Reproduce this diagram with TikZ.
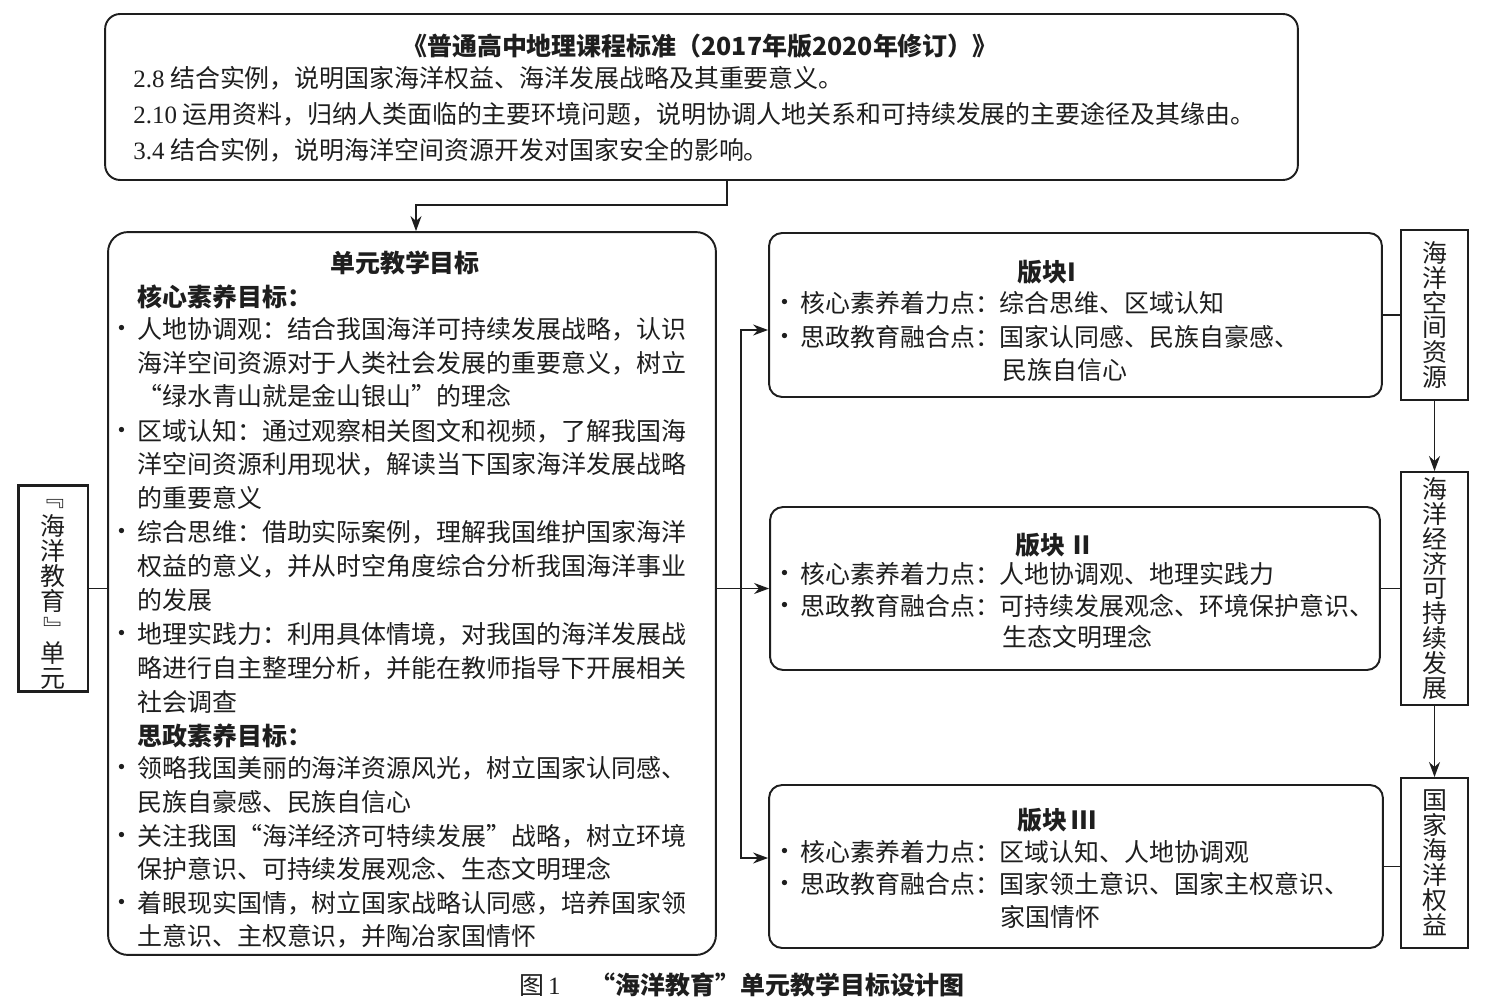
\documentclass[tikz,border=0pt]{standalone}
\usepackage{fontspec}
\setmainfont{Noto Sans CJK SC}
\newfontfamily\serif{Liberation Serif}
\usetikzlibrary{arrows.meta}
\definecolor{ink}{HTML}{1E1E1E}
\newcommand\vbrk[1]{\raisebox{0pt}[0.8em][0.2em]{\rotatebox[origin=c]{-90}{#1}}}
\tikzset{
  frame/.style={draw=ink, line width=1.1pt, inner sep=0pt},
  roundbox/.style={frame, rounded corners=0.26cm},
  sqbox/.style={frame, align=center, font=\fontsize{14.2pt}{14.2pt}\selectfont, text=ink},
  ln/.style={anchor=west, inner sep=0pt, text=ink},
  ttl/.style={inner sep=0pt, text=ink, font=\fontsize{14.2pt}{17pt}\selectfont\bfseries},
  dot/.style={inner sep=0pt, text=ink, yshift=-0.05cm},
  conn/.style={draw=ink, line width=0.85pt},
  arr/.style={conn, -{Stealth[length=0.3cm, width=0.22cm]}}
}
\begin{document}
\begin{tikzpicture}[x=0.02cm, y=-0.02cm, font=\fontsize{14.2pt}{17pt}\selectfont]
\useasboundingbox (0,0) rectangle (1500,1003);

% ---------- boxes ----------
\node[roundbox, rounded corners=0.3cm, minimum width=23.86cm, minimum height=3.32cm] (top) at (701.5,97) {};
\node[roundbox, rounded corners=0.4cm, minimum width=12.16cm, minimum height=14.46cm] (mid) at (412,593.5) {};
\node[sqbox, line width=1.7pt, minimum width=1.4cm, minimum height=4.14cm] (left) at (53,588.5)
  {\vbrk{『}\\海\\洋\\教\\育\\\vbrk{』}\\单\\元};
\node[roundbox, minimum width=12.26cm, minimum height=3.28cm] (b1) at (1075.5,315) {};
\node[roundbox, minimum width=12.2cm, minimum height=3.26cm] (b2) at (1075,588.5) {};
\node[roundbox, minimum width=12.28cm, minimum height=3.26cm] (b3) at (1076,866.5) {};
\node[sqbox, minimum width=1.34cm, minimum height=3.4cm] (r1) at (1434.5,315)
  {海\\洋\\空\\间\\资\\源};
\node[sqbox, minimum width=1.34cm, minimum height=4.66cm] (r2) at (1434.5,588.5)
  {海\\洋\\经\\济\\可\\持\\续\\发\\展};
\node[sqbox, minimum width=1.34cm, minimum height=3.4cm] (r3) at (1434.5,863)
  {国\\家\\海\\洋\\权\\益};

% ---------- top box text ----------
\node[ttl] (tt) at (700,46) {《普通高中地理课程标准（2017年版2020年修订）》};
\node[ln] (t1) at (133,78) {{\serif 2.8} 结合实例，说明国家海洋权益、海洋发展战略及其重要意义。};
\node[ln] (t2) at (133,114) {{\serif 2.10} 运用资料，归纳人类面临的主要环境问题，说明协调人地关系和可持续发展的主要途径及其缘由。};
\node[ln] (t3) at (133,150) {{\serif 3.4} 结合实例，说明海洋空间资源开发对国家安全的影响。};

% ---------- middle box text ----------
\node[ttl] (mt) at (405,263) {单元教学目标};
\node[ln, font=\fontsize{14.2pt}{17pt}\selectfont\bfseries] (m0) at (137,297) {核心素养目标：};
\node[dot] (d1) at (122,329) {·};
\node[ln] (m1) at (137,329) {人地协调观：结合我国海洋可持续发展战略，认识};
\node[ln] (m2) at (137,363) {海洋空间资源对于人类社会发展的重要意义，树立};
\node[ln] (m3) at (137,396) {“绿水青山就是金山银山”的理念};
\node[dot] (d2) at (122,431) {·};
\node[ln] (m4) at (137,431) {区域认知：通过观察相关图文和视频，了解我国海};
\node[ln] (m5) at (137,464) {洋空间资源利用现状，解读当下国家海洋发展战略};
\node[ln] (m6) at (137,498) {的重要意义};
\node[dot] (d3) at (122,532) {·};
\node[ln] (m7) at (137,532) {综合思维：借助实际案例，理解我国维护国家海洋};
\node[ln] (m8) at (137,566) {权益的意义，并从时空角度综合分析我国海洋事业};
\node[ln] (m9) at (137,600) {的发展};
\node[dot] (d4) at (122,634) {·};
\node[ln] (m10) at (137,634) {地理实践力：利用具体情境，对我国的海洋发展战};
\node[ln] (m11) at (137,668) {略进行自主整理分析，并能在教师指导下开展相关};
\node[ln] (m12) at (137,702) {社会调查};
\node[ln, font=\fontsize{14.2pt}{17pt}\selectfont\bfseries] (m13) at (137,736) {思政素养目标：};
\node[dot] (d5) at (122,768) {·};
\node[ln] (m14) at (137,768) {领略我国美丽的海洋资源风光，树立国家认同感、};
\node[ln] (m15) at (137,802) {民族自豪感、民族自信心};
\node[dot] (d6) at (122,836) {·};
\node[ln] (m16) at (137,836) {关注我国“海洋经济可特续发展”战略，树立环境};
\node[ln] (m17) at (137,869) {保护意识、可持续发展观念、生态文明理念};
\node[dot] (d7) at (122,903) {·};
\node[ln] (m18) at (137,903) {着眼现实国情，树立国家战略认同感，培养国家领};
\node[ln] (m19) at (137,936) {土意识、主权意识，并陶冶家国情怀};

% ---------- block texts ----------
\node[ttl] (h1) at (1047,272) {版块I};
\node[dot] (e11) at (785,303) {·};
\node[ln] (k11) at (800,303) {核心素养着力点：综合思维、区域认知};
\node[dot] (e12) at (785,337) {·};
\node[ln] (k12) at (800,337) {思政教育融合点：国家认同感、民族自豪感、};
\node[ln] (k13) at (1002,370) {民族自信心};

\node[ttl] (h2) at (1055,545) {版块\,Ⅱ};
\node[dot] (e21) at (785,574) {·};
\node[ln] (k21) at (800,574) {核心素养着力点：人地协调观、地理实践力};
\node[dot] (e22) at (785,606) {·};
\node[ln] (k22) at (800,606) {思政教育融合点：可持续发展观念、环境保护意识、};
\node[ln] (k23) at (1002,637) {生态文明理念};

\node[ttl] (h3) at (1057,820) {版块\,Ⅲ};
\node[dot] (e31) at (785,852) {·};
\node[ln] (k31) at (800,852) {核心素养着力点：区域认知、人地协调观};
\node[dot] (e32) at (785,884) {·};
\node[ln] (k32) at (800,884) {思政教育融合点：国家领土意识、国家主权意识、};
\node[ln] (k33) at (1000,917) {家国情怀};

% ---------- caption ----------
\node[inner sep=0pt, text=ink] (cap) at (742,985) {图\,{\serif 1}\hspace{1.2em}{\bfseries “海洋教育”单元教学目标设计图}};

% ---------- connectors ----------
\coordinate (p1) at (727,205);
\coordinate (p2) at (416,205);
\draw[arr] (top.south -| p1) -- (p1) -- (p2) -- (mid.north -| p2);

\draw[conn] (left.east) -- (left.east -| mid.west);

\coordinate (bx) at (741,589);
\coordinate (v1) at (741,330);
\coordinate (v3) at (741,858);
\draw[arr] (mid.east |- b2.west) -- (b2.west);
\draw[arr] (bx) -- (v1) -- (v1 -| b1.west);
\draw[arr] (bx) -- (v3) -- (v3 -| b3.west);

\draw[conn] (b1.east) -- (r1.west);
\draw[conn] (b2.east) -- (r2.west);
\draw[conn] (b3.east) -- (b3.east -| r3.west);
\draw[arr] (r1.south) -- (r2.north);
\draw[arr] (r2.south) -- (r3.north);
\end{tikzpicture}
\end{document}
